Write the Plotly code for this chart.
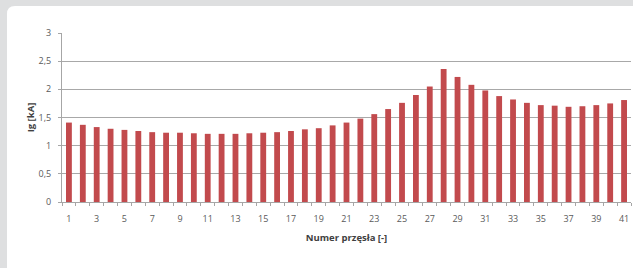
import plotly.graph_objects as go

spans = list(range(1, 42))
ig_ka = [1.41, 1.37, 1.33, 1.30, 1.28, 1.26, 1.24, 1.23, 1.23, 1.22,
         1.21, 1.21, 1.21, 1.22, 1.23, 1.24, 1.26, 1.29, 1.31, 1.36,
         1.41, 1.48, 1.56, 1.65, 1.76, 1.90, 2.05, 2.36, 2.22, 2.08,
         1.98, 1.88, 1.82, 1.76, 1.72, 1.71, 1.69, 1.70, 1.72, 1.75, 1.81]
x_ticks = list(range(1, 42, 2))
y_ticks = [0, 0.5, 1, 1.5, 2, 2.5, 3]
y_labels = ["0", "0,5", "1", "1,5", "2", "2,5", "3"]
x_title = "Numer przęsła [-]"
y_title = "Ig [kA]"

font = "Open Sans"
txt = "#5a5a5a"

fig = go.Figure(go.Bar(x=spans, y=ig_ka, marker=dict(color="#c24a4d", line=dict(width=0))))

fig.update_layout(
    width=633, height=268,
    margin=dict(l=62, r=2, t=33, b=66),
    paper_bgcolor="#dedfe0",
    plot_bgcolor="rgba(0,0,0,0)",
    bargap=0.58,
    showlegend=False,
    font=dict(family=font, size=9, color=txt),
    shapes=[dict(
        type="path", layer="below",
        xref="paper", yref="paper", xsizemode="pixel", ysizemode="pixel",
        xanchor=0, yanchor=1,
        path="M -47,27 L 590,27 L 590,-250 L -47,-250 L -55,-242 L -55,19 Q -55,27 -47,27 Z",
        fillcolor="white", line=dict(width=0),
    )],
)
fig.update_xaxes(
    range=[0.5, 41.5], tickvals=x_ticks, ticktext=[str(v) for v in x_ticks],
    ticks="", showgrid=False, zeroline=False,
    showline=True, linecolor="#a6a6a6", linewidth=1,
    tickfont=dict(size=9, color=txt), ticklabelstandoff=8,
    minor=dict(tickvals=[i + 0.5 for i in range(0, 42)], ticks="outside", ticklen=3,
               tickcolor="#a6a6a6", showgrid=False),
    title=dict(text=f"<b>{x_title}</b>", font=dict(size=9.5, color="#404040"), standoff=10),
)
fig.update_yaxes(
    range=[0, 3], tickvals=y_ticks, ticktext=y_labels,
    ticks="outside", ticklen=3, tickcolor="#a6a6a6",
    showgrid=True, gridcolor="#a8a8a8", gridwidth=1, zeroline=False,
    showline=True, linecolor="#a6a6a6", linewidth=1,
    tickfont=dict(size=9, color=txt), ticklabelstandoff=5,
    title=dict(text=f"<b>{y_title}</b>", font=dict(size=9.5, color="#404040"), standoff=2),
)

fig.write_html(
    "out.html",
    config={"displayModeBar": False},
    post_script="document.body.style.margin='0';document.body.style.overflow='hidden';",
)
